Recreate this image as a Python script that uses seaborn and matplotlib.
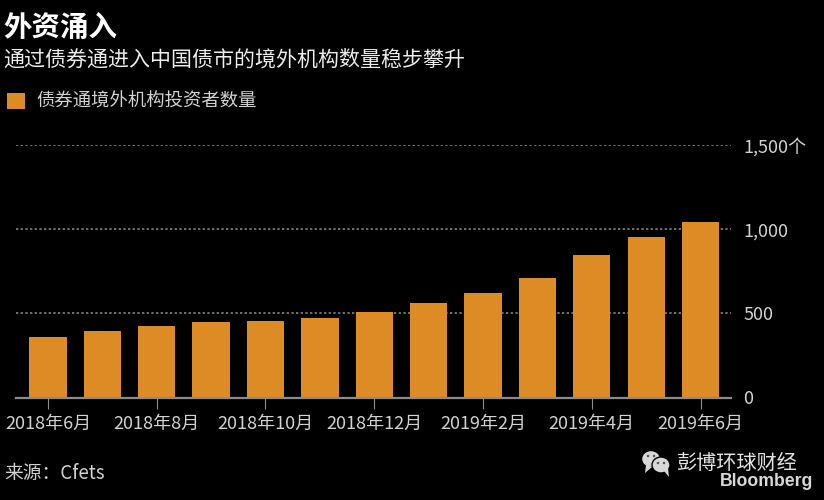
import matplotlib
matplotlib.use('Agg')
import matplotlib.pyplot as plt
from matplotlib.patches import Ellipse, Polygon
import pandas as pd
import seaborn as sns

months = ['2018年6月', '2018年7月', '2018年8月', '2018年9月', '2018年10月', '2018年11月', '2018年12月',
          '2019年1月', '2019年2月', '2019年3月', '2019年4月', '2019年5月', '2019年6月']
investors = [359, 395, 425, 448, 454, 472, 508, 561, 621, 710, 846, 953, 1042]
y_ticks = [0, 500, 1000, 1500]
y_labels = ['0', '500', '1,000', '1,500个']

W, H = 824, 500
orange = '#DD8B25'
light = '#D2D2D2'

sns.set_theme(style='dark')
plt.rcParams['font.family'] = ['Noto Sans CJK SC', 'DejaVu Sans']

df = pd.DataFrame({'month': months, 'investors': investors})

fig = plt.figure(figsize=(8.24, 5), dpi=100, facecolor='black')
ax = fig.add_axes([16 / W, 1 - 397.5 / H, 715 / W, 252.5 / H], facecolor='black')

sns.barplot(data=df, x='month', y='investors', color=orange, saturation=1, width=0.686,
            ax=ax, zorder=3, label='债券通境外机构投资者数量', linewidth=0, edgecolor='none')

ax.set_xlim(-0.588, 12.56)
ax.set_ylim(0, 1500)
ax.set_xlabel('')
ax.set_ylabel('')
for s in ['top', 'left', 'right']:
    ax.spines[s].set_visible(False)
ax.spines['bottom'].set_color('#8C8C8C')
ax.spines['bottom'].set_linewidth(1.6)
ax.spines['bottom'].set_zorder(4)

# 每隔一个月标一次
ax.set_xticks(range(0, 13, 2))
ax.set_xticklabels(months[::2], color=light, fontsize=13)
ax.tick_params(axis='x', length=8, width=0.8, color='#8C8C8C', pad=4.5, bottom=True)

ax.yaxis.tick_right()
ax.set_yticks(y_ticks)
ax.set_yticklabels(y_labels, color=light, fontsize=13)
ax.tick_params(axis='y', length=0, pad=9)
ax.grid(False)
ax.grid(axis='y', color='#707070', linestyle=(0, (1.2, 1.2)), linewidth=1.4, zorder=1)
ax.set_axisbelow(True)

leg = ax.legend(loc='lower left', bbox_to_anchor=(7 / W, 1 - 111 / H), bbox_transform=fig.transFigure,
                frameon=False, fontsize=13.2, labelcolor=light, handlelength=1.0, handleheight=1.0,
                handletextpad=0.58, borderpad=0, borderaxespad=0)
for h in leg.get_patches():
    h.set_edgecolor('none')
    h.set_linewidth(0)


def ftext(x, y, s, **kw):
    fig.text(x / W, 1 - y / H, s, va='center', **kw)


ftext(3, 28, '外资涌入', color='white', fontsize=20.5, fontweight='bold')
ftext(3, 60, '通过债券通进入中国债市的境外机构数量稳步攀升', color='#EDEDED', fontsize=15.1)
ftext(4, 474, '来源：Cfets', color=light, fontsize=13.5)
ftext(677, 463, '彭博环球财经', color='#E4E4E4', fontsize=14.5)
ftext(720, 481, 'Bloomberg', color='#D8D8D8', fontsize=12.7, fontweight='bold', family='Liberation Sans')

# 微信图标
icon = '#D8D8D8'
for cx, cy, w, h in [(651, 459, 19, 17), (661, 465, 18, 16)]:
    fig.add_artist(Ellipse((cx / W, 1 - cy / H), w / W, h / H, transform=fig.transFigure,
                           facecolor=icon, edgecolor='black', linewidth=1))
fig.add_artist(Polygon([(646 / W, 1 - 465 / H), (645 / W, 1 - 473 / H), (652 / W, 1 - 467 / H)],
                       transform=fig.transFigure, facecolor=icon, edgecolor='none'))
fig.add_artist(Polygon([(664 / W, 1 - 471 / H), (669 / W, 1 - 477 / H), (668 / W, 1 - 468 / H)],
                       transform=fig.transFigure, facecolor=icon, edgecolor='none'))
for cx, cy in [(648, 456), (654, 456), (658, 463), (664, 463)]:
    fig.add_artist(Ellipse((cx / W, 1 - cy / H), 2.5 / W, 2.5 / H, transform=fig.transFigure,
                           facecolor='#555555', edgecolor='none'))

fig.savefig('out.png', dpi=100, facecolor='black')
